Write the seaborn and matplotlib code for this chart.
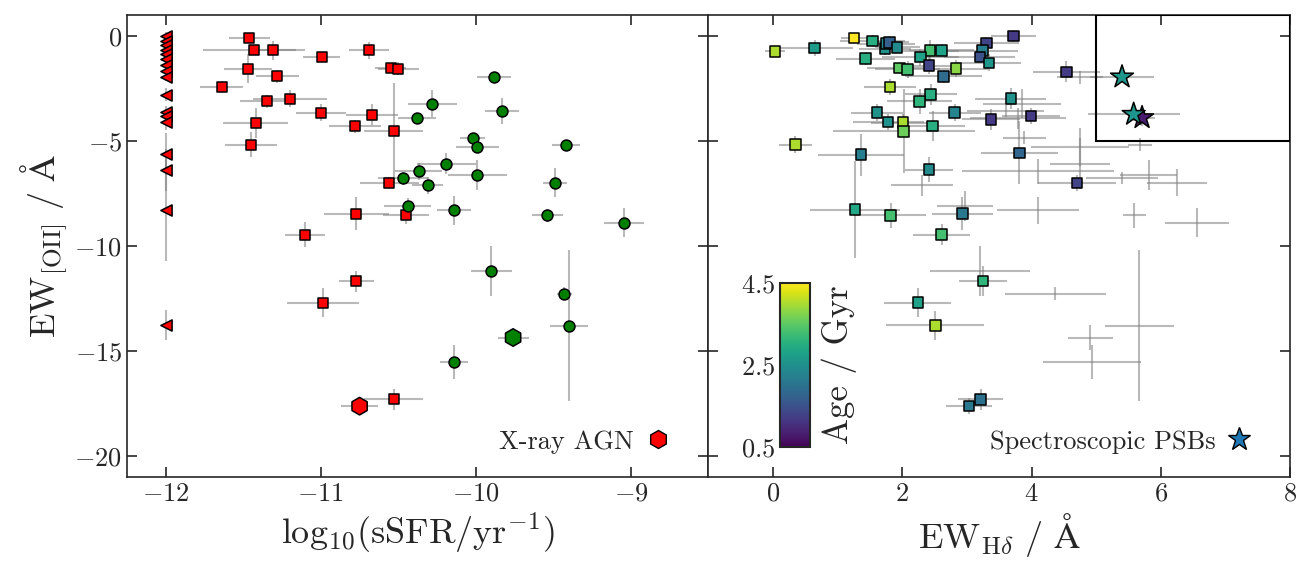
import matplotlib
matplotlib.use('Agg')
import matplotlib.pyplot as plt
import seaborn as sns
from matplotlib.lines import Line2D
from matplotlib.patches import Rectangle
from matplotlib.colors import Normalize
from matplotlib.cm import ScalarMappable

# ---- left panel: sSFR vs EW[OII] ----
# sSFR upper limits (triangles at log sSFR = -12)
tri_x = [-12.0] * 17
tri_y = [0.0, -0.25, -0.44, -0.65, -0.84, -1.08, -1.4, -1.68, -1.95, -2.79, -3.62, -3.82, -4.1, -5.6, -6.36, -8.3, -13.76]
tri_yerr = [0.2, 0.2, 0.2, 0.2, 0.2, 0.2, 0.2, 0.2, 0.2, 0.3, 0.3, 0.3, 0.4, 1.0, 1.0, 2.4, 0.7]

# quiescent (red squares)
q_x = [-11.46, -11.43, -11.31, -10.995, -10.69, -10.55, -10.50, -11.47, -11.28, -11.64, -11.35, -11.20, -11.0,
       -10.67, -10.78, -10.53, -11.42, -11.45, -10.56, -10.77, -10.45, -11.10, -10.77, -10.985, -10.53]
q_y = [-0.1, -0.68, -0.68, -1.0, -0.68, -1.52, -1.55, -1.55, -1.92, -2.43, -3.11, -2.98, -3.65,
       -3.74, -4.3, -4.54, -4.14, -5.17, -7.0, -8.46, -8.54, -9.46, -11.67, -12.7, -17.3]
q_xerr = [0.13, 0.33, 0.15, 0.12, 0.13, 0.1, 0.13, 0.155, 0.14, 0.14, 0.17, 0.24, 0.16,
          0.17, 0.17, 0.19, 0.21, 0.17, 0.19, 0.21, 0.15, 0.13, 0.11, 0.23, 0.19]
q_yerr = [0.2, 0.2, 0.45, 0.25, 0.4, 0.2, 0.3, 0.7, 0.3, 0.3, 0.3, 0.4, 0.4,
          0.5, 0.3, 2.3, 0.7, 0.6, 0.3, 0.8, 0.4, 0.6, 0.5, 0.7, 0.5]

# star forming (green circles)
g_x = [-9.884, -10.28, -9.83, -10.38, -10.02, -9.99, -9.42, -10.19, -10.37, -9.99, -10.47, -10.31, -9.49,
       -10.44, -10.14, -9.54, -9.045, -9.90, -9.43, -9.40, -10.14]
g_y = [-1.97, -3.22, -3.57, -3.93, -4.84, -5.28, -5.17, -6.08, -6.44, -6.63, -6.78, -7.11, -6.98,
       -8.1, -8.3, -8.54, -8.89, -11.19, -12.27, -13.8, -15.52]
g_xerr = [0.11, 0.16, 0.11, 0.12, 0.08, 0.14, 0.09, 0.19, 0.15, 0.19, 0.16, 0.1, 0.08,
          0.15, 0.11, 0.1, 0.13, 0.13, 0.05, 0.12, 0.09]
g_yerr = [0.2, 0.63, 0.6, 0.2, 0.2, 0.3, 0.2, 0.5, 0.4, 0.71, 0.3, 0.4, 0.7,
          0.4, 0.7, 0.3, 0.7, 1.2, 0.3, 3.6, 0.8]

# X-ray AGN (hexagons)
agn_x = [-10.75, -9.76]
agn_y = [-17.63, -14.36]
agn_xerr = [0.12, 0.1]
agn_yerr = [0.3, 0.4]
agn_col = ['red', 'green']

# ---- right panel: EW(Hdelta) vs EW[OII], coloured by age ----
s_x = [0.03, 0.645, 1.25, 1.54, 1.73, 1.75, 1.80, 1.92, 1.43, 1.96, 2.08, 1.81, 2.43, 2.61, 2.28, 2.41, 2.64,
       2.83, 3.30, 3.24, 3.20, 3.34, 2.44, 2.27, 1.61, 1.78, 2.01, 2.02, 2.47, 2.81, 3.37, 0.345, 1.36, 2.41,
       1.27, 1.82, 2.61, 2.93, 3.72, 4.54, 3.68, 3.99, 3.81, 4.70, 3.25, 2.24, 2.51, 3.03, 3.21]
s_y = [-0.73, -0.57, -0.1, -0.24, -0.6, -0.36, -0.31, -0.54, -1.08, -1.52, -1.59, -2.43, -0.7, -0.68, -1.01,
       -1.41, -1.92, -1.55, -0.33, -0.7, -1.0, -1.28, -2.78, -3.11, -3.65, -4.1, -4.13, -4.54, -4.29, -3.65,
       -3.97, -5.17, -5.65, -6.36, -8.27, -8.54, -9.46, -8.46, -0.01, -1.71, -2.98, -3.81, -5.57, -7.0,
       -11.67, -12.7, -13.78, -17.62, -17.31]
s_age = [4.0, 2.7, 4.5, 3.0, 2.5, 2.4, 1.7, 2.4, 3.0, 3.5, 3.3, 4.0, 3.3, 2.8, 2.8, 1.3, 1.9, 3.8, 1.3, 2.2,
         1.5, 2.6, 3.0, 3.1, 2.5, 2.5, 4.0, 3.6, 3.0, 2.3, 1.2, 4.0, 2.2, 2.4, 2.9, 3.3, 3.3, 2.1, 1.2, 1.2,
         2.5, 1.2, 1.8, 1.3, 3.1, 2.8, 4.0, 2.1, 2.0]
s_xerr = [0.15, 0.59, 0.2, 0.5, 0.4, 0.45, 0.3, 0.35, 0.45, 0.5, 0.5, 0.4, 0.45, 0.5, 0.6, 0.45, 0.6, 0.5,
          0.5, 0.55, 0.55, 0.5, 0.4, 0.5, 0.4, 0.55, 0.5, 1.1, 0.5, 0.4, 0.45, 0.25, 0.66, 0.37, 0.7, 0.55,
          0.44, 0.47, 0.35, 0.52, 0.55, 0.45, 0.6, 0.6, 0.37, 0.52, 0.76, 0.35, 0.35]
s_yerr = [0.2, 0.4, 0.2, 0.3, 0.3, 0.3, 0.3, 0.2, 0.3, 0.3, 0.4, 0.4, 0.5, 0.3, 0.4, 0.4, 0.3, 0.4, 0.3,
          0.3, 0.3, 0.4, 0.5, 0.6, 0.4, 0.4, 0.4, 2.0, 0.7, 0.4, 0.5, 0.4, 1.0, 0.6, 2.3, 0.6, 0.5, 0.8,
          0.3, 0.5, 0.5, 0.4, 1.5, 0.4, 0.7, 0.7, 0.7, 0.4, 0.5]

# star-forming galaxies, only error bars shown
c_x = [4.75, 3.85, 3.6, 3.79, 3.89, 4.75, 5.68, 4.75, 4.1, 5.81, 5.40, 2.31, 6.25, 2.97, 4.1, 5.59, 6.56,
       3.2, 4.37, 5.67, 4.93, 4.91]
c_y = [-1.97, -3.22, -3.57, -3.93, -4.84, -5.28, -5.17, -6.08, -6.44, -6.63, -6.76, -7.11, -6.98, -8.1,
       -8.3, -8.54, -8.89, -11.19, -12.27, -13.8, -15.52, -14.36]
c_xerr = [0.35, 0.6, 0.6, 0.75, 0.33, 0.76, 0.18, 0.47, 1.17, 0.44, 0.55, 0.48, 0.46, 0.44, 0.63, 0.18,
          0.5, 0.77, 0.78, 0.54, 0.76, 0.35]
c_yerr = [0.3, 0.7, 0.3, 0.5, 0.3, 0.9, 0.3, 1.2, 0.6, 0.71, 0.3, 0.5, 0.65, 0.7, 0.65, 0.6, 0.7, 1.2,
          0.3, 3.6, 0.8, 0.6]

# spectroscopic PSBs (stars)
st_x = [5.71, 5.40, 5.58]
st_y = [-3.89, -1.95, -3.73]
st_age = [0.8, 2.6, 2.6]
st_xerr = [0.2, 0.5, 0.71]
st_yerr = [0.4, 0.2, 0.3]

sns.set_style('ticks')
plt.rcParams['font.family'] = 'serif'
plt.rcParams['font.serif'] = ['cmr10']
plt.rcParams['mathtext.fontset'] = 'cm'
plt.rcParams['axes.formatter.use_mathtext'] = True
plt.rcParams['axes.linewidth'] = 1.2

fig, (ax1, ax2) = plt.subplots(1, 2, figsize=(13.13, 5.76), dpi=100, sharey=True)
fig.subplots_adjust(left=0.0967, right=0.9825, top=0.974, bottom=0.172, wspace=0)

ekw = dict(fmt='none', ecolor='grey', alpha=0.55, elinewidth=1.5, capsize=0, zorder=1)
norm = Normalize(0.5, 4.5)

# left
ax1.errorbar(tri_x, tri_y, yerr=tri_yerr, **ekw)
ax1.errorbar(q_x, q_y, xerr=q_xerr, yerr=q_yerr, **ekw)
ax1.errorbar(g_x, g_y, xerr=g_xerr, yerr=g_yerr, **ekw)
ax1.errorbar(agn_x, agn_y, xerr=agn_xerr, yerr=agn_yerr, **ekw)
sns.scatterplot(x=tri_x, y=tri_y, marker='<', color='red', edgecolor='black', linewidth=1.1, s=65, ax=ax1, zorder=3)
sns.scatterplot(x=q_x, y=q_y, marker='s', color='red', edgecolor='black', linewidth=1.1, s=58, ax=ax1, zorder=3)
sns.scatterplot(x=g_x, y=g_y, marker='o', color='green', edgecolor='black', linewidth=1.1, s=62, ax=ax1, zorder=3)
sns.scatterplot(x=agn_x, y=agn_y, marker='h', hue=agn_col, palette={'red': 'red', 'green': 'green'},
                edgecolor='black', linewidth=1.1, s=160, ax=ax1, zorder=4, legend=False)

ax1.set_xlim(-12.25, -8.5)
ax1.set_ylim(-21, 1)
ax1.set_xticks([-12, -11, -10, -9])
ax1.set_yticks([0, -5, -10, -15, -20])
ax1.set_xlabel(r'$\mathrm{log_{10}(sSFR/yr^{-1})}$', fontsize=26)
ax1.set_ylabel(r'$\mathrm{EW_{[OII]}}\ /\ \mathrm{Å}$', fontsize=26)

h1 = Line2D([], [], marker='h', color='red', mec='black', ls='none', ms=13, label='X-ray AGN')
ax1.legend(handles=[h1], loc='lower right', bbox_to_anchor=(0.981, -0.0065), frameon=False,
           markerfirst=False, fontsize=19, handlelength=1.0, handletextpad=0.4, borderaxespad=0.6)

# right
ax2.errorbar(c_x, c_y, xerr=c_xerr, yerr=c_yerr, **ekw)
ax2.errorbar(s_x, s_y, xerr=s_xerr, yerr=s_yerr, **ekw)
ax2.errorbar(st_x, st_y, xerr=st_xerr, yerr=st_yerr, **ekw)
sns.scatterplot(x=s_x, y=s_y, hue=s_age, palette='viridis', hue_norm=norm, marker='s',
                edgecolor='black', linewidth=1.1, s=58, ax=ax2, zorder=3, legend=False)
sns.scatterplot(x=st_x, y=st_y, hue=st_age, palette='viridis', hue_norm=norm, marker='*',
                edgecolor='black', linewidth=1.1, s=300, ax=ax2, zorder=4, legend=False)
ax2.add_patch(Rectangle((5, -5), 3, 6, fill=False, ec='black', lw=1.5, zorder=5))

ax2.set_xlim(-1, 8)
ax2.set_xticks([0, 2, 4, 6, 8])
ax2.set_xlabel(r'$\mathrm{EW_{H\delta}}\ /\ \mathrm{Å}$', fontsize=26)

h2 = Line2D([], [], marker='*', color='#1f77b4', mec='black', ls='none', ms=17, label='Spectroscopic PSBs')
ax2.legend(handles=[h2], loc='lower right', bbox_to_anchor=(0.981, -0.0065), frameon=False,
           markerfirst=False, fontsize=19, handlelength=1.0, handletextpad=0.4, borderaxespad=0.6)

for ax in (ax1, ax2):
    ax.tick_params(direction='in', top=True, right=True, length=7, width=1.2, labelsize=19)
ax2.tick_params(labelleft=False)

cax = fig.add_axes([0.594, 0.224, 0.0229, 0.285])
cb = fig.colorbar(ScalarMappable(norm=norm, cmap='viridis'), cax=cax)
cb.set_ticks([0.5, 2.5, 4.5])
cax.yaxis.set_ticks_position('left')
cax.yaxis.set_label_position('right')
cax.tick_params(direction='in', length=6, width=1.2, labelsize=19)
cb.outline.set_linewidth(1.5)
cb.set_label('Age / Gyr', fontsize=25, labelpad=8)

fig.savefig('out.png', dpi=100)
